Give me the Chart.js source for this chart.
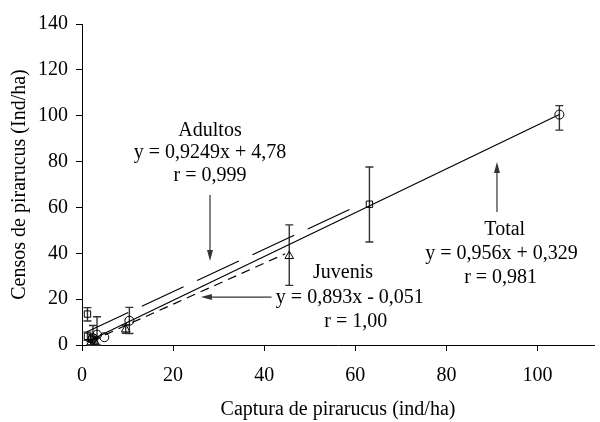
<!DOCTYPE html>
<html>
<head>
<meta charset="utf-8">
<script src="https://cdn.jsdelivr.net/npm/chart.js@4.4.1/dist/chart.umd.min.js"></script>
<style>
  html, body { margin: 0; padding: 0; background: #fff; }
  #wrap { width: 600px; height: 422px; }
</style>
</head>
<body>
<div id="wrap"><canvas id="c" width="600" height="422"></canvas></div>
<script>
// Capture (x) vs census (y) for each group, with census error ranges
const totalCapture = [2.4, 3.3, 4.9, 10.4, 104.8];
const totalCensus  = [3.0, 4.5, 3.4, 10.6, 100.5];
const totalLow     = [0.0, 0.0, null, 5.0, 93.7];
const totalHigh    = [8.5, 12.3, null, 16.4, 104.4];

const adultCapture = [1.2, 1.2, 2.2, 63.1];
const adultCensus  = [13.5, 3.8, 2.5, 61.4];
const adultLow     = [10.5, 2.0, 0.0, 44.9];
const adultHigh    = [16.3, 5.6, 4.5, 77.6];

const juvCapture   = [1.9, 2.8, 9.6, 45.5];
const juvCensus    = [0.8, 1.5, 6.8, 38.8];
const juvLow       = [0.0, 0.0, 5.1, 26.0];
const juvHigh      = [1.8, 3.5, 8.7, 52.4];

// Linear fits: slope, intercept, r and the x-range each fit is drawn over
const fitNames     = ['Total', 'Adultos', 'Juvenis'];
const fitSlope     = [0.956, 0.9249, 0.893];
const fitIntercept = [0.329, 4.78, -0.051];
const fitR         = ['0,981', '0,999', '1,00'];
const fitFrom      = [1.0, 1.0, 2.0];
const fitTo        = [104.8, 59.1, 44.6];

const xTicks = [0, 20, 40, 60, 80, 100];
const yTicks = [0, 20, 40, 60, 80, 100, 120, 140];

const xTitle = 'Captura de pirarucus (ind/ha)';
const yTitle = 'Censos de pirarucus (Ind/ha)';

// ---- helpers -------------------------------------------------------------
const SERIF = 'Liberation Serif';
const FONT_SIZE = 20;
Chart.defaults.font.family = SERIF;
Chart.defaults.font.size = FONT_SIZE;
Chart.defaults.font.weight = 'normal';
Chart.defaults.color = '#000';

const pts = (xs, ys) => xs.map((x, i) => ({ x: x, y: ys[i] }));
const dec = n => String(Math.abs(n)).replace('.', ',');
const equation = i =>
  'y = ' + dec(fitSlope[i]) + 'x ' + (fitIntercept[i] < 0 ? '- ' : '+ ') + dec(fitIntercept[i]);
const fitLine = i => [fitFrom[i], fitTo[i]].map(x => ({ x: x, y: fitSlope[i] * x + fitIntercept[i] }));

// Label blocks (data units): name, equation, r — each line with its own centre
const labelPlacement = {
  Total:   [[92.8, 50.2], [92.1, 39.7], [91.9, 29.2]],
  Adultos: [[28.1, 93.3], [28.1, 83.7], [28.1, 73.7]],
  Juvenis: [[57.3, 31.4], [58.8, 20.7], [60.1, 10.0]]
};
// Pointer arrows (data units): tail -> head
const arrowPlacement = {
  Total:   [[91.1, 58.0], [91.1, 79.8]],
  Adultos: [[28.1, 65.4], [28.1, 36.6]],
  Juvenis: [[41.6, 20.9], [26.1, 20.9]]
};

const errorSeries = [
  { xs: totalCapture, lo: totalLow, hi: totalHigh },
  { xs: adultCapture, lo: adultLow, hi: adultHigh },
  { xs: juvCapture,   lo: juvLow,   hi: juvHigh }
];

// Vertical error bars with caps, drawn under the markers
const errorBars = {
  id: 'errorBars',
  beforeDatasetsDraw(chart) {
    const { ctx, scales: { x, y } } = chart;
    ctx.save();
    ctx.strokeStyle = '#333';
    ctx.lineWidth = 1.4;
    errorSeries.forEach(s => {
      s.xs.forEach((xv, i) => {
        if (s.lo[i] == null || s.hi[i] == null) return;
        const px = x.getPixelForValue(xv);
        const p1 = y.getPixelForValue(s.lo[i]);
        const p2 = y.getPixelForValue(s.hi[i]);
        ctx.beginPath();
        ctx.moveTo(px, p1); ctx.lineTo(px, p2);
        ctx.moveTo(px - 4, p1); ctx.lineTo(px + 4, p1);
        ctx.moveTo(px - 4, p2); ctx.lineTo(px + 4, p2);
        ctx.stroke();
      });
    });
    ctx.restore();
  }
};

// Fit labels and arrows
const fitNotes = {
  id: 'fitNotes',
  afterDatasetsDraw(chart) {
    const { ctx, scales: { x, y } } = chart;
    ctx.save();
    ctx.font = FONT_SIZE + 'px "' + SERIF + '"';
    ctx.textAlign = 'center';
    ctx.textBaseline = 'middle';
    fitNames.forEach((name, i) => {
      ctx.fillStyle = '#000';
      const texts = [name, equation(i), 'r = ' + fitR[i]];
      labelPlacement[name].forEach((p, k) => {
        ctx.fillText(texts[k], x.getPixelForValue(p[0]), y.getPixelForValue(p[1]));
      });
      const [a, b] = arrowPlacement[name];
      const x1 = x.getPixelForValue(a[0]), y1 = y.getPixelForValue(a[1]);
      const x2 = x.getPixelForValue(b[0]), y2 = y.getPixelForValue(b[1]);
      const ang = Math.atan2(y2 - y1, x2 - x1);
      const len = 11, half = 3;
      ctx.strokeStyle = '#333';
      ctx.fillStyle = '#333';
      ctx.lineWidth = 1.2;
      ctx.beginPath();
      ctx.moveTo(x1, y1);
      ctx.lineTo(x2 - Math.cos(ang) * len * 0.8, y2 - Math.sin(ang) * len * 0.8);
      ctx.stroke();
      ctx.beginPath();
      ctx.moveTo(x2, y2);
      ctx.lineTo(x2 - Math.cos(ang) * len - Math.sin(ang) * half, y2 - Math.sin(ang) * len + Math.cos(ang) * half);
      ctx.lineTo(x2 - Math.cos(ang) * len + Math.sin(ang) * half, y2 - Math.sin(ang) * len - Math.cos(ang) * half);
      ctx.closePath();
      ctx.fill();
    });
    ctx.restore();
  }
};

const markerBase = {
  type: 'scatter',
  borderColor: '#000',
  backgroundColor: 'rgba(0,0,0,0)',
  borderWidth: 1,
  pointHoverRadius: 5
};
const lineBase = {
  type: 'line',
  borderColor: '#000',
  borderWidth: 1.2,
  pointRadius: 0,
  fill: false,
  tension: 0
};

const axisFont = { family: SERIF, size: FONT_SIZE, weight: 'normal' };

new Chart(document.getElementById('c'), {
  data: {
    datasets: [
      Object.assign({}, lineBase, { label: 'Total (ajuste)', data: fitLine(0) }),
      Object.assign({}, lineBase, { label: 'Adultos (ajuste)', data: fitLine(1), borderDash: [46, 15] }),
      Object.assign({}, lineBase, { label: 'Juvenis (ajuste)', data: fitLine(2), borderDash: [9, 6] }),
      Object.assign({}, markerBase, { label: 'Total', data: pts(totalCapture, totalCensus), pointStyle: 'circle', pointRadius: 4.5 }),
      Object.assign({}, markerBase, { label: 'Adultos', data: pts(adultCapture, adultCensus), pointStyle: 'rect', pointRadius: 4.5 }),
      Object.assign({}, markerBase, { label: 'Juvenis', data: pts(juvCapture, juvCensus), pointStyle: 'triangle', pointRadius: 5 })
    ]
  },
  options: {
    responsive: false,
    animation: false,
    devicePixelRatio: 1,
    layout: { padding: { top: 24, right: 2, left: 0, bottom: 0 } },
    plugins: { legend: { display: false }, tooltip: { enabled: false } },
    scales: {
      x: {
        type: 'linear',
        min: 0,
        max: 112.4,
        afterBuildTicks: s => { s.ticks = xTicks.map(v => ({ value: v })); },
        afterFit: s => { s.height = 77; },
        grid: { drawOnChartArea: false, drawTicks: true, tickLength: 6, color: '#000' },
        border: { display: true, color: '#000', width: 1 },
        ticks: { color: '#000', padding: 13, font: axisFont, maxRotation: 0 },
        title: { display: true, text: xTitle, color: '#000', padding: { top: 0, bottom: 0 }, font: axisFont }
      },
      y: {
        type: 'linear',
        min: 0,
        max: 140,
        afterBuildTicks: s => { s.ticks = yTicks.map(v => ({ value: v })); },
        afterFit: s => { s.width = 82; },
        grid: { drawOnChartArea: false, drawTicks: true, tickLength: 6, color: '#000' },
        border: { display: true, color: '#000', width: 1 },
        ticks: { color: '#000', padding: 8, font: axisFont },
        title: { display: true, text: yTitle, color: '#000', padding: { top: 8, bottom: 8 }, font: axisFont }
      }
    }
  },
  plugins: [errorBars, fitNotes]
});
</script>
</body>
</html>
